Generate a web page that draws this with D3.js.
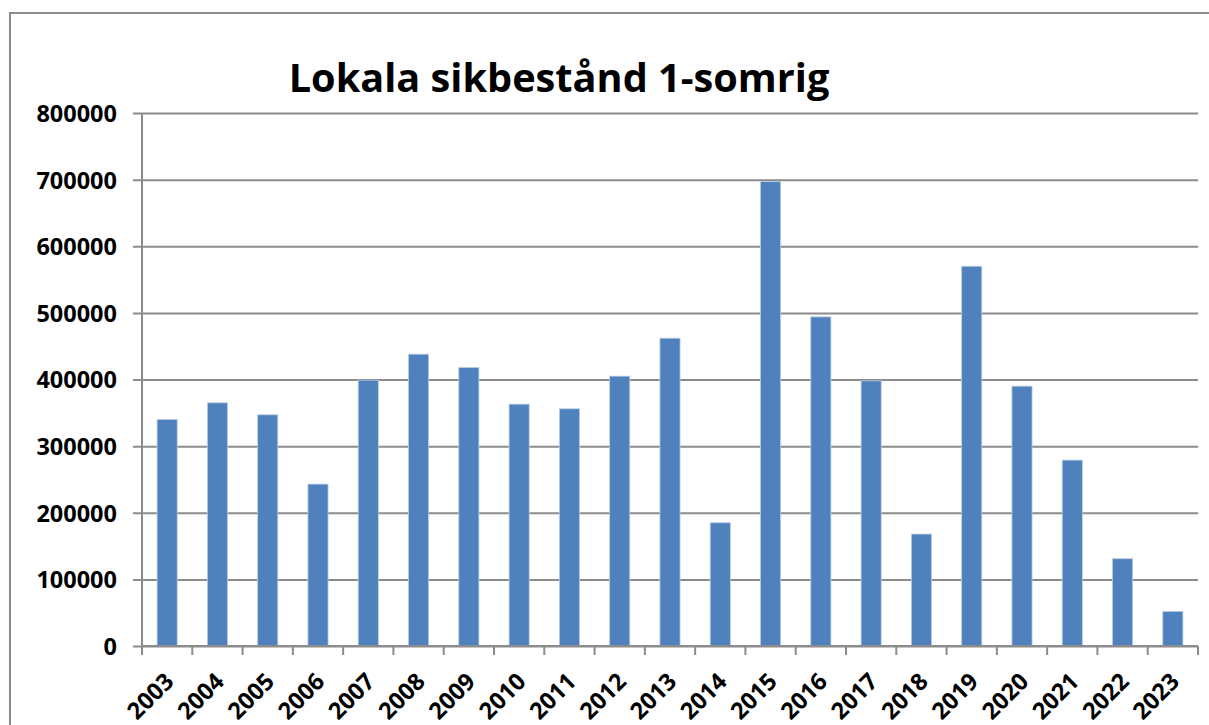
<!DOCTYPE html>
<html>
<head>
<meta charset="utf-8">
<script src="https://cdn.jsdelivr.net/npm/d3@7"></script>
<style>
	body { margin: 0; background: #fff; }
	svg text { font-family: "Open Sans", "Liberation Sans", sans-serif; font-weight: bold; fill: #000; }
</style>
</head>
<body>
<div id="chart"></div>
<script>
var years  = ['2003','2004','2005','2006','2007','2008','2009','2010','2011','2012','2013',
              '2014','2015','2016','2017','2018','2019','2020','2021','2022','2023'];
var values = [340000, 365000, 347000, 243000, 399000, 438000, 418000, 363000, 356000, 405000, 462000,
              185000, 697000, 494000, 398000, 168000, 570000, 390000, 279000, 131000, 52000];
var yTicks = [0, 100000, 200000, 300000, 400000, 500000, 600000, 700000, 800000];
var title  = 'Lokala sikbestånd 1-somrig';

var width  = 1209,
	height = 725,
	margin = {top: 113, right: 11, bottom: 79, left: 142};

var viewWidth  = width  - margin.left - margin.right,
	viewHeight = height - margin.top  - margin.bottom;

var svg = d3.select('#chart').append('svg')
	.attr('width', width)
	.attr('height', height);

// outer frame
svg.append('path')
	.attr('d', 'M10,' + height + 'V13H' + width)
	.attr('fill', 'none')
	.attr('stroke', '#8c8c8c')
	.attr('stroke-width', 2);

svg.append('text')
	.attr('x', 559)
	.attr('y', 92)
	.attr('text-anchor', 'middle')
	.style('font-size', '39.7px')
	.text(title);

var vis = svg.append('g')
	.attr('transform', 'translate(' + margin.left + ',' + margin.top + ')');

var x = d3.scaleBand()
	.domain(years)
	.range([0, viewWidth])
	.paddingInner(0.6)
	.paddingOuter(0.3);

var y = d3.scaleLinear()
	.domain([0, 800000])
	.range([viewHeight, 0]);

// gridlines + y axis
var yAxis = d3.axisLeft(y)
	.tickValues(yTicks)
	.tickSize(-viewWidth)
	.tickPadding(25)
	.tickFormat(d3.format('d'));

vis.append('g')
	.attr('class', 'y-axis')
	.call(yAxis)
	.call(function(g) {
		g.select('.domain').remove();
		g.selectAll('.tick line')
			.attr('x1', -9)
			.attr('stroke', '#8c8c8c')
			.attr('stroke-width', 2);
		g.selectAll('.tick text')
			.style('font-size', '23.5px')
			.attr('dy', '0.36em');
	});

vis.append('line')
	.attr('y1', 0)
	.attr('y2', viewHeight)
	.attr('stroke', '#8c8c8c')
	.attr('stroke-width', 2);

// bars
vis.append('g')
	.selectAll('rect')
	.data(values)
	.enter().append('rect')
	.attr('x', function(d, i) { return x(years[i]); })
	.attr('y', function(d) { return y(d); })
	.attr('width', x.bandwidth())
	.attr('height', function(d) { return viewHeight - y(d); })
	.attr('fill', '#4f81bd')
	.attr('stroke', '#b9cde5')
	.attr('stroke-width', 0.8);

// x axis
var step = viewWidth / years.length;
var xg = vis.append('g')
	.attr('transform', 'translate(0,' + viewHeight + ')');

xg.append('line')
	.attr('x1', 0)
	.attr('x2', viewWidth)
	.attr('stroke', '#8c8c8c')
	.attr('stroke-width', 2);

xg.selectAll('line.tick')
	.data(d3.range(years.length + 1))
	.enter().append('line')
	.attr('class', 'tick')
	.attr('x1', function(d) { return d * step; })
	.attr('x2', function(d) { return d * step; })
	.attr('y1', 0)
	.attr('y2', 9)
	.attr('stroke', '#8c8c8c')
	.attr('stroke-width', 2);

xg.selectAll('text')
	.data(years)
	.enter().append('text')
	.attr('text-anchor', 'end')
	.style('font-size', '23.5px')
	.attr('transform', function(d) {
		var cx = x(d) + x.bandwidth() / 2 + 2;
		return 'translate(' + cx + ',31) rotate(-45)';
	})
	.attr('dy', '0.36em')
	.text(function(d) { return d; });
</script>
</body>
</html>
